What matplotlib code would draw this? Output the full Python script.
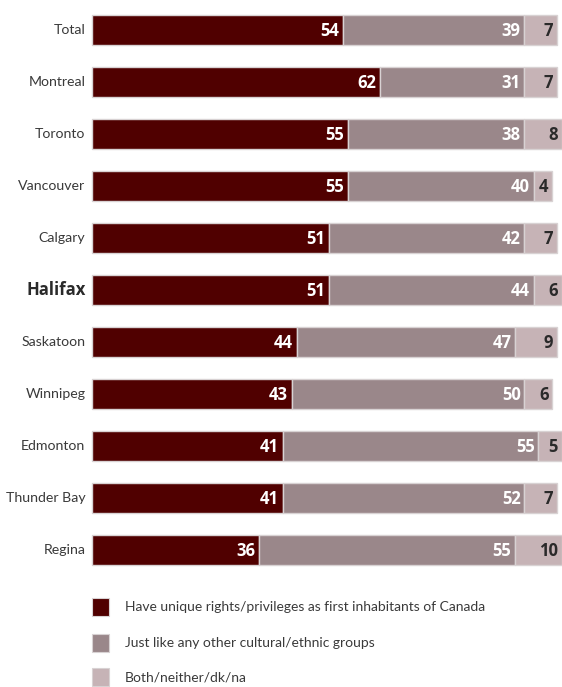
import matplotlib.pyplot as plt
from matplotlib.patches import Rectangle
import numpy as np

# Datos
cities = ["Total", "Montreal", "Toronto", "Vancouver", "Calgary", "Halifax",
          "Saskatoon", "Winnipeg", "Edmonton", "Thunder Bay", "Regina"]
unique_rights = [54, 62, 55, 55, 51, 51, 44, 43, 41, 41, 36]
like_others = [39, 31, 38, 40, 42, 44, 47, 50, 55, 52, 55]
both_neither = [7, 7, 8, 4, 7, 6, 9, 6, 5, 7, 10]
series_names = ["Have unique rights/privileges as first inhabitants of Canada",
                "Just like any other cultural/ethnic groups",
                "Both/neither/dk/na"]
colors = ["#500000", "#9a878a", "#c6b3b6"]
label_colors = ["white", "white", "#2a2a2a"]
highlight = "Halifax"

W, H = 562, 687
fig = plt.figure(figsize=(W / 100, H / 100), dpi=100)
ax = fig.add_axes([92 / W, 1 - 576 / H, 465 / W, 572 / H])

narrow = "Lato"
y = np.arange(len(cities))
data = [unique_rights, like_others, both_neither]
left = np.zeros(len(cities))
for vals, col, lc in zip(data, colors, label_colors):
    vals = np.array(vals, dtype=float)
    ax.barh(y, vals, left=left, height=0.58, color=col,
            edgecolor="#d8d2d3", linewidth=1.0, clip_on=False)
    for yi, l, v in zip(y, left, vals):
        ax.text(l + v - 0.8, yi + 0.02, f"{int(v)}", ha="right", va="center",
                color=lc, fontsize=12, fontweight="bold",
                family="Open Sans", clip_on=False)
    left += vals

ax.set_xlim(0, 100)
ax.set_ylim(len(cities) - 0.5, -0.5)
ax.axis("off")

for yi, c in zip(y, cities):
    if c == highlight:
        ax.text(-1.4, yi, c, ha="right", va="center", fontsize=12,
                fontweight="bold", family="Open Sans", color="#2a2a2a")
    else:
        ax.text(-1.4, yi, c, ha="right", va="center", fontsize=10.2,
                family=narrow, color="#3a3a3a")

# Leyenda
leg_y = [607, 643, 677]
for ly, name, col in zip(leg_y, series_names, colors):
    fig.add_artist(Rectangle((92 / W, 1 - (ly + 9) / H), 17 / W, 18 / H,
                             transform=fig.transFigure, facecolor=col,
                             edgecolor="#d8d2d3", linewidth=0.8))
    fig.text(125 / W, 1 - ly / H, name, ha="left", va="center",
             fontsize=10, family=narrow, color="#3a3a3a")

fig.savefig("out.png", dpi=100)
